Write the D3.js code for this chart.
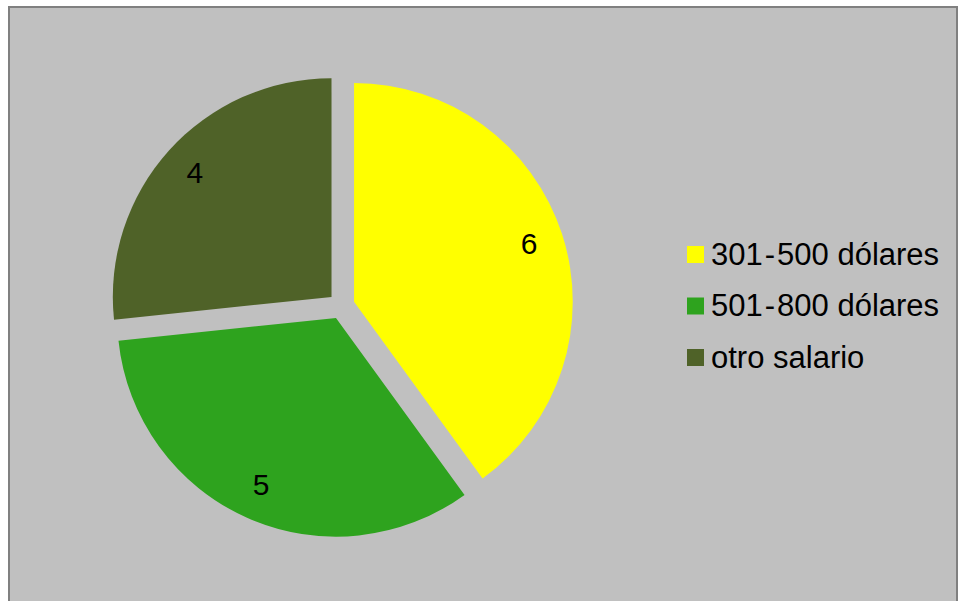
<!DOCTYPE html>
<html>
<head>
<meta charset="utf-8">
<script src="https://cdn.jsdelivr.net/npm/d3@7"></script>
<style>
  html, body { margin: 0; padding: 0; background: #ffffff; }
  svg { display: block; }
  text { font-family: Arial, "Liberation Sans", sans-serif; fill: #000; }
</style>
</head>
<body>
<svg id="chart" width="959" height="601"></svg>
<script>
// ---- data ----
const categories = ["301-500 dólares", "501-800 dólares", "otro salario"];
const values = [6, 5, 4];
const sliceColors = ["#FFFF00", "#2EA31E", "#4F6228"];

// ---- layout ----
const svg = d3.select("#chart");

// chart area background with border
svg.append("rect")
  .attr("x", 9).attr("y", 7)
  .attr("width", 948).attr("height", 620)
  .attr("fill", "#C0C0C0")
  .attr("stroke", "#808080")
  .attr("stroke-width", 2);

const cx = 341.4, cy = 305.8, R = 218.7, explode = 13.3, labelR = 184;

const pie = d3.pie().sort(null).value(d => d).startAngle(0).endAngle(2 * Math.PI);
const arcs = pie(values);
const arc = d3.arc().innerRadius(0).outerRadius(R);
const labelArc = d3.arc().innerRadius(labelR).outerRadius(labelR);

const color = d3.scaleOrdinal().domain(categories).range(sliceColors);

const g = svg.append("g").attr("transform", `translate(${cx},${cy})`);

const slices = g.selectAll("g.slice")
  .data(arcs)
  .enter().append("g")
  .attr("class", "slice")
  .attr("transform", d => {
    const a = (d.startAngle + d.endAngle) / 2;
    return `translate(${explode * Math.sin(a)},${-explode * Math.cos(a)})`;
  });

slices.append("path")
  .attr("d", arc)
  .attr("fill", (d, i) => color(categories[i]));

slices.append("text")
  .attr("transform", d => `translate(${labelArc.centroid(d)})`)
  .attr("text-anchor", "middle")
  .attr("dy", "0.3em")
  .style("font-size", "30px")
  .text(d => d.value);

// ---- legend ----
const legendY = d3.scalePoint().domain(categories).range([246, 349]);
const legend = svg.append("g");
const items = legend.selectAll("g.item")
  .data(categories)
  .enter().append("g")
  .attr("class", "item")
  .attr("transform", d => `translate(687,${legendY(d)})`);

items.append("rect")
  .attr("width", 17).attr("height", 17)
  .attr("fill", d => color(d));

items.append("text")
  .attr("x", 24)
  .attr("y", 18.5)
  .style("font-size", "31px")
  .each(function (d) {
    const t = d3.select(this);
    const parts = d.split("-");
    if (parts.length === 1) { t.text(d); return; }
    t.append("tspan").text(parts[0]);
    t.append("tspan").attr("dx", 2).text("-");
    t.append("tspan").attr("dx", 2).text(parts.slice(1).join("-"));
  });
</script>
</body>
</html>
